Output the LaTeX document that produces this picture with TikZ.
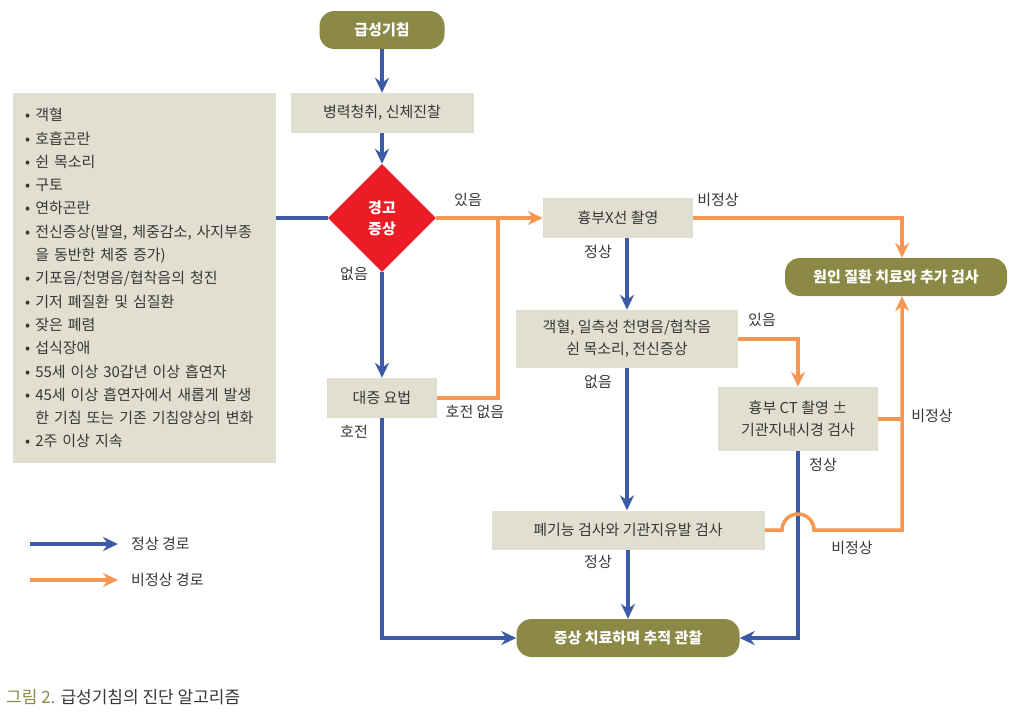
\documentclass[tikz,border=0pt]{standalone}
\usepackage{fontspec}
\setmainfont{Noto Sans CJK KR}
\usetikzlibrary{arrows.meta,shapes.geometric}

\definecolor{nblue}{RGB}{60,90,166}
\definecolor{norange}{RGB}{247,150,82}
\definecolor{olivebg}{RGB}{139,137,69}
\definecolor{boxbg}{RGB}{225,224,208}
\definecolor{warnred}{RGB}{236,28,36}
\definecolor{txt}{RGB}{55,55,55}

\begin{document}
\begin{tikzpicture}[x=1pt,y=-1pt,>={Stealth[length=15pt,width=14pt,inset=5pt]},
  font=\fontsize{15}{22}\selectfont, text=txt]
  \tikzstyle{box}=[rectangle,fill=boxbg,draw=none,inner sep=4pt,align=center]
  \tikzstyle{term}=[rectangle,rounded corners=15pt,fill=olivebg,draw=none,
    text=white,font=\fontsize{15}{22}\selectfont\bfseries,minimum height=38pt]
  \tikzstyle{decide}=[diamond,aspect=1,fill=warnred,draw=none,text=white,
    inner sep=0pt,minimum size=108pt,align=center,
    font=\fontsize{15}{21}\selectfont\bfseries]
  \tikzstyle{nrm}=[draw=nblue,line width=3.5pt]
  \tikzstyle{abn}=[draw=norange,line width=3.5pt]
  \tikzstyle{lbl}=[inner sep=1pt]

  \useasboundingbox (0,0) rectangle (1024,718);

  % main column
  \node[term,minimum width=125pt]                    (start) at (382,30)  {급성기침};
  \node[box,minimum width=183pt,minimum height=40pt] (hist)  at (382,113) {병력청취, 신체진찰};
  \node[decide]                                      (warn)  at (382,218) {경고\\증상};
  \node[box,minimum width=110pt,minimum height=40pt] (relief) at (382,398) {대증 요법};

  % warning signs
  \node[box,anchor=north west,text width=239pt,inner xsep=12pt,
        minimum height=370pt,align=left,
        font=\fontsize{15}{23.3}\selectfont] (signs) at (13,93)
    {• 객혈\\
     • 호흡곤란\\
     • 쉰 목소리\\
     • 구토\\
     • 연하곤란\\
     • 전신증상(발열, 체중감소, 사지부종\\
     \phantom{• }을 동반한 체중 증가)\\
     • 기포음/천명음/협착음의 청진\\
     • 기저 폐질환 및 심질환\\
     • 잦은 폐렴\\
     • 섭식장애\\
     • 55세 이상 30갑년 이상 흡연자\\
     • 45세 이상 흡연자에서 새롭게 발생\\
     \phantom{• }한 기침 또는 기존 기침양상의 변화\\
     • 2주 이상 지속};

  % right part
  \node[box,minimum width=150pt,minimum height=40pt] (cxr)   at (618,218) {흉부X선 촬영};
  \node[term,minimum width=222pt]                    (cause) at (896,277) {원인 질환 치료와 추가 검사};
  \node[box,minimum width=222pt,minimum height=58pt] (sx)    at (627,339) {객혈, 일측성 천명음/협착음\\쉰 목소리, 전신증상};
  \node[box,minimum width=160pt,minimum height=64pt] (ct)    at (798,419) {흉부 CT 촬영 ±\\기관지내시경 검사};
  \node[box,minimum width=273pt,minimum height=39pt] (pft)   at (628,530) {폐기능 검사와 기관지유발 검사};
  \node[term,minimum width=223pt]                    (follow) at (628,638) {증상 치료하며 추적 관찰};

  \coordinate (jn) at (498,218);
  \coordinate (rx) at (902,530);
  \coordinate (hop) at (ct.south |- pft.east);

  % normal paths
  \draw[nrm,->] (start) -- (hist);
  \draw[nrm,->] (hist) -- (warn.north);
  \draw[nrm] (signs.east |- warn.west) -- (warn.west);
  \draw[nrm,->] (warn.south) -- (relief.north);
  \draw[nrm,->] (relief.south) |- (follow.west);
  \draw[nrm,->] (cxr.south -| sx.north) -- (sx.north);
  \draw[nrm,->] (sx.south) -- (sx.south |- pft.north);
  \draw[nrm,->] (pft.south) -- (follow.north);
  \draw[nrm,->] (ct.south) |- (follow.east);

  % abnormal paths
  \draw[abn,->] (warn.east) -- (cxr.west);
  \draw[abn] (relief.east) -| (jn);
  \draw[abn,->] (cxr.east) -| (rx |- cause.north);
  \draw[abn,->] (sx.east) -| (ct.north);
  \draw[abn] (ct.east) -- (ct.east -| rx);
  \draw[abn,->] (pft.east) -- ([xshift=-16pt]hop)
    arc[start angle=180,end angle=360,radius=16] -- (rx) -- (rx |- cause.south);

  % labels
  \node[lbl] (l1)  at (468,200) {있음};
  \node[lbl] (l2)  at (354,274) {없음};
  \node[lbl] (l3)  at (354,432) {호전};
  \node[lbl] (l4)  at (475,412) {호전 없음};
  \node[lbl] (l5)  at (718,200) {비정상};
  \node[lbl] (l6)  at (598,252) {정상};
  \node[lbl] (l7)  at (762,320) {있음};
  \node[lbl] (l8)  at (598,382) {없음};
  \node[lbl] (l9)  at (932,416) {비정상};
  \node[lbl] (l10) at (823,465) {정상};
  \node[lbl] (l11) at (852,548) {비정상};
  \node[lbl] (l12) at (598,562) {정상};

  % legend
  \coordinate (lgA) at (30,544);
  \coordinate (lgB) at (30,580);
  \node[lbl,anchor=west] (lgn) at (130,544) {정상 경로};
  \node[lbl,anchor=west] (lga) at (130,580) {비정상 경로};
  \draw[nrm,->] (lgA) -- ([xshift=-12pt]lgn.west);
  \draw[abn,->] (lgB) -- ([xshift=-12pt]lga.west);

  % caption
  \node[anchor=west,inner sep=0pt,font=\fontsize{17}{20}\selectfont] (cap) at (6,697)
    {\textcolor{olivebg}{그림 2.} 급성기침의 진단 알고리즘};
\end{tikzpicture}
\end{document}
